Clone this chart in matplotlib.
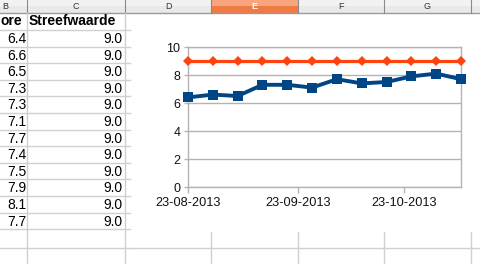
import datetime as dt
import matplotlib
matplotlib.use('Agg')
import matplotlib.pyplot as plt
import matplotlib.dates as mdates
from matplotlib.patches import Rectangle
import numpy as np

plt.rcParams['font.family'] = ['Liberation Sans', 'DejaVu Sans']

# data
datums = [dt.date(2013, 8, 23) + dt.timedelta(days=7 * i) for i in range(12)]
score = [6.4, 6.6, 6.5, 7.3, 7.3, 7.1, 7.7, 7.4, 7.5, 7.9, 8.1, 7.7]
streefwaarde = [9.0] * 12
kolommen = ['B', 'C', 'D', 'E', 'F', 'G']
datum_ticks = [dt.date(2013, 8, 23), dt.date(2013, 9, 23), dt.date(2013, 10, 23)]

W, H = 480, 264
fig = plt.figure(figsize=(W / 100, H / 100), dpi=100)

# spreadsheet layer in pixel coordinates
bg = fig.add_axes([0, 0, 1, 1])
bg.set_xlim(0, W)
bg.set_ylim(H, 0)
bg.axis('off')

grid_kleur = '#d0d0d0'
kol_grenzen = [-60, 27, 125, 211, 298, 384, 471, 560]
kop_h = 12.5
rij_y = [kop_h, 30] + [30 + 16.6 * k for k in range(1, 13)] + [248]

# header bar
bg.add_patch(Rectangle((0, 0), W, kop_h, color='#f2f2f2', lw=0))
bg.add_patch(Rectangle((0, kop_h / 2), W, kop_h / 2, color='#e9e9e9', lw=0))
bg.add_patch(Rectangle((211, 0), 87, kop_h / 2, color='#f8a47e', lw=0))
bg.add_patch(Rectangle((211, kop_h / 2), 87, kop_h / 2, color='#f07a44', lw=0))
bg.plot([0, W], [kop_h, kop_h], color='#9a9a9a', lw=1)
for i, k in enumerate(kolommen):
    x0, x1 = kol_grenzen[i], kol_grenzen[i + 1]
    bg.plot([x1, x1], [0, kop_h], color='#8a8a8a', lw=0.8)
    bg.text((max(x0, 0) + x1) / 2 if i else 5, kop_h / 2 + 0.5, k,
            ha='center', va='center', fontsize=6.5,
            color='white' if k == 'E' else '#333333',
            fontweight='bold' if k == 'E' else 'normal')

# cell grid: B and C fully, D..G only below the chart
for y in rij_y[1:]:
    bg.plot([0, 130], [y, y], color=grid_kleur, lw=1)
bg.plot([130, W], [248, 248], color=grid_kleur, lw=1)
for x in [27, 125]:
    bg.plot([x, x], [kop_h, H], color=grid_kleur, lw=1)
for x in [211, 298, 384, 471]:
    bg.plot([x, x], [232, H], color=grid_kleur, lw=1)

# cell texts (column B is scrolled, only the tail of its header shows)
bg.text(0.5, 21, 'ore', ha='left', va='center', fontsize=10, fontweight='bold')
bg.text(29, 21, 'Streefwaarde', ha='left', va='center', fontsize=10, fontweight='bold')
for k in range(12):
    y = 30 + 16.6 * k + 9
    bg.text(26, y, f'{score[k]:.1f}', ha='right', va='center', fontsize=10)
    bg.text(123, y, f'{streefwaarde[k]:.1f}', ha='right', va='center', fontsize=10)

# the chart object (white area over the sheet)
bg.add_patch(Rectangle((130, kop_h + 1), W - 130, 232 - kop_h - 1, color='white', lw=0))

# chart
ax = fig.add_axes([188 / W, (H - 187) / H, (461 - 188) / W, (187 - 47) / H])
ax.plot(datums, streefwaarde, color='#ff420e', lw=2.3, marker='D', ms=4.8,
        mew=0, clip_on=False, zorder=3)
ax.plot(datums, score, color='#004586', lw=2.8, marker='s', ms=7,
        mew=0, clip_on=False, zorder=4)
ax.set_xlim(datums[0], datums[-1])
ax.set_ylim(0, 10)
ax.set_yticks(np.arange(0, 11, 2))
ax.set_xticks(datum_ticks)
ax.xaxis.set_major_formatter(mdates.DateFormatter('%d-%m-%Y'))
ax.grid(axis='y', color='#b3b3b3', lw=1)
ax.set_axisbelow(True)
for s in ax.spines.values():
    s.set_color('#b3b3b3')
    s.set_linewidth(1)
ax.tick_params(axis='y', length=3, width=1, color='#b3b3b3', pad=2.5,
               labelsize=9, labelcolor='#111111')
ax.tick_params(axis='x', length=4.3, width=1, color='#b3b3b3', pad=3,
               labelsize=9.2, labelcolor='#111111')

fig.savefig('out.png', dpi=100)
